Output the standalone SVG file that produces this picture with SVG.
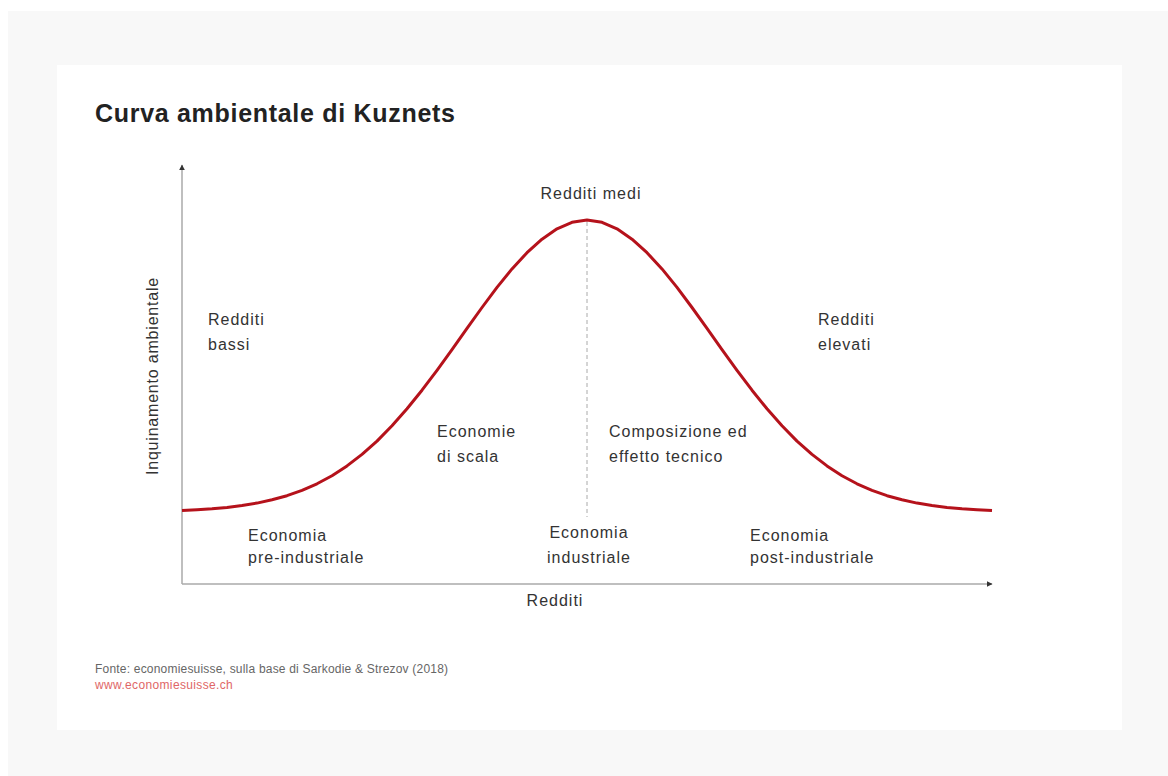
<svg xmlns="http://www.w3.org/2000/svg" width="1168" height="776" viewBox="0 0 1168 776">
<style>
.lbl{font-family:"Liberation Sans",Arial,sans-serif;font-size:16px;fill:#333;letter-spacing:1px}
.title{font-family:"Liberation Sans",Arial,sans-serif;font-size:25px;font-weight:bold;fill:#222;letter-spacing:0.7px}
.src{font-family:"Liberation Sans",Arial,sans-serif;font-size:12px;fill:#666;letter-spacing:0.2px}
.url{font-family:"Liberation Sans",Arial,sans-serif;font-size:12px;fill:#e06666;letter-spacing:0.35px}
.axis{stroke:#aaa;stroke-width:1.5;fill:none}
</style>
<defs>
<marker id="arr" viewBox="0 0 10 10" refX="9" refY="5" markerWidth="6" markerHeight="6" orient="auto" markerUnits="userSpaceOnUse">
<path d="M0,0 L10,5 L0,10 z" fill="#333"/>
</marker>
</defs>
<rect x="0" y="0" width="1168" height="776" fill="#ffffff"/>
<rect x="8" y="11" width="1160" height="765" fill="#f8f8f8"/>
<rect x="57" y="65" width="1065" height="665" fill="#ffffff"/>
<text class="title" x="95" y="122">Curva ambientale di Kuznets</text>
<g id="connectors">
<line class="axis" x1="182" y1="584" x2="182" y2="165" marker-end="url(#arr)"/>
<line class="axis" x1="182" y1="584" x2="992" y2="584" marker-end="url(#arr)"/>
<line x1="587" y1="222" x2="587" y2="517" stroke="#aaa" stroke-width="1" stroke-dasharray="4,3"/>
</g>
<g id="curve">
<polyline fill="none" stroke="#b5121b" stroke-width="3" stroke-linejoin="round" points="182,510.5 197,509.8 212,508.8 227,507.4 242,505.5 257,503.1 272,499.8 287,495.7 302,490.4 317,483.8 332,475.7 347,465.9 362,454.4 377,441.1 392,425.8 407,408.8 422,390.2 437,370.3 452,349.6 467,328.4 482,307.5 497,287.4 512,268.9 527,252.7 542,239.2 557,228.8 572,222.3 587,220 602,222.3 617,228.8 632,239.2 647,252.7 662,268.9 677,287.4 692,307.5 707,328.4 722,349.6 737,370.3 752,390.2 767,408.8 782,425.8 797,441.1 812,454.4 827,465.9 842,475.7 857,483.8 872,490.4 887,495.7 902,499.8 917,503.1 932,505.5 947,507.4 962,508.8 977,509.8 992,510.5"/>
</g>
<g id="y-label"><text class="lbl" transform="translate(158,376) rotate(-90)" text-anchor="middle" style="letter-spacing:0.8px">Inquinamento ambientale</text></g>
<g id="x-label"><text class="lbl" x="555" y="606" text-anchor="middle">Redditi</text></g>
<g id="redditi-medi"><text class="lbl" x="591" y="199" text-anchor="middle">Redditi medi</text></g>
<g id="redditi-bassi"><text class="lbl" x="208" y="325">Redditi</text><text class="lbl" x="208" y="350">bassi</text></g>
<g id="redditi-elevati"><text class="lbl" x="818" y="325">Redditi</text><text class="lbl" x="818" y="350">elevati</text></g>
<g id="economie-scala"><text class="lbl" x="437" y="437">Economie</text><text class="lbl" x="437" y="462">di scala</text></g>
<g id="composizione"><text class="lbl" x="609" y="437">Composizione ed</text><text class="lbl" x="609" y="462">effetto tecnico</text></g>
<g id="pre-industriale"><text class="lbl" x="248" y="541">Economia</text><text class="lbl" x="248" y="563">pre-industriale</text></g>
<g id="industriale"><text class="lbl" x="589" y="538" text-anchor="middle">Economia</text><text class="lbl" x="589" y="563" text-anchor="middle">industriale</text></g>
<g id="post-industriale"><text class="lbl" x="750" y="541">Economia</text><text class="lbl" x="750" y="563">post-industriale</text></g>
<text class="src" x="95" y="673">Fonte: economiesuisse, sulla base di Sarkodie &amp; Strezov (2018)</text>
<text class="url" x="95" y="689">www.economiesuisse.ch</text>
</svg>
